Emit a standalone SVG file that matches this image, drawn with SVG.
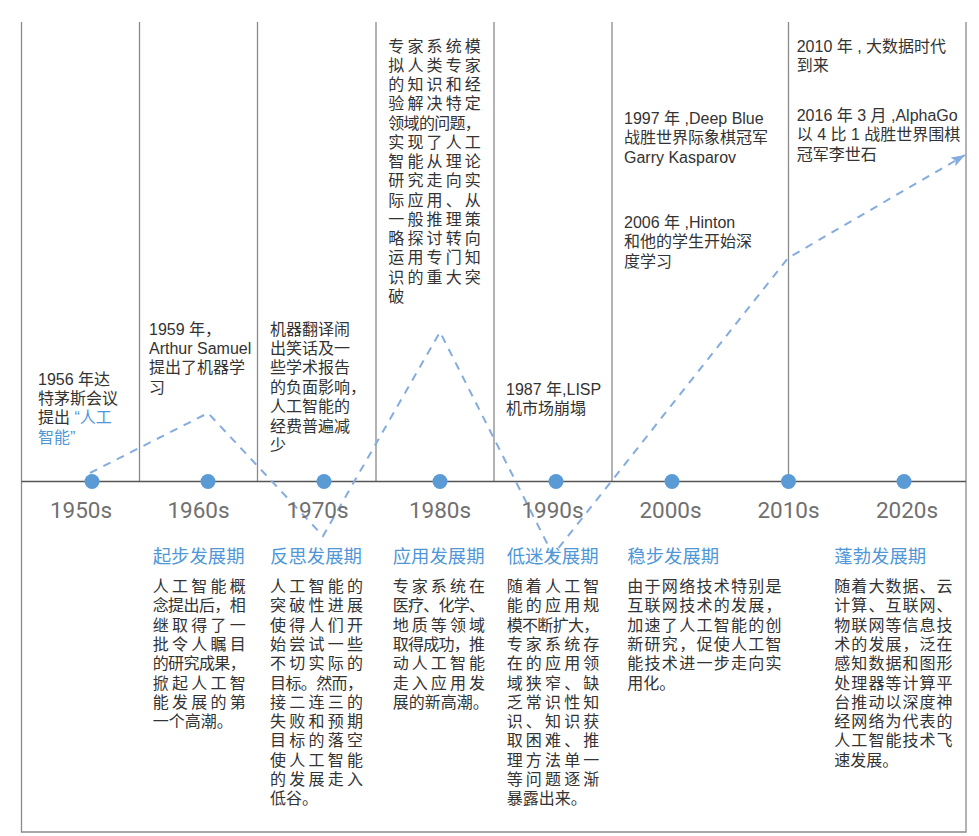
<svg xmlns="http://www.w3.org/2000/svg" width="979" height="836" viewBox="0 0 979 836">
<style>
text{font-family:"Liberation Sans","Noto Sans CJK SC",sans-serif;}
.frame{stroke:#8a8a8a;stroke-width:1.3;fill:none;}
.axis{stroke:#555;stroke-width:1.5;}
.dot{fill:#5b9bd5;}
.year{font-family:Roboto,"Liberation Sans",sans-serif;font-size:22.5px;fill:#707070;text-anchor:middle;}
.note{font-size:16px;fill:#333;}
.blue{fill:#4f97d6;}
.title{font-size:18.4px;fill:#4f97d6;}
.body{font-size:16px;fill:#333;}
.trend{fill:none;stroke:#84acdf;stroke-width:2;stroke-dasharray:8 7;}
</style>
<defs>
<marker id="arrow" markerUnits="userSpaceOnUse" markerWidth="16" markerHeight="12" refX="14" refY="5" orient="auto">
<path d="M0,0 L14,5 L0,10 L3,5 z" fill="#84acdf"/>
</marker>
</defs>
<rect width="979" height="836" fill="#fff"/>
<g id="frame">
<path class="frame" d="M21.5,22 V832 H966 V22"/>
<path class="frame" d="M139.5,22 V481 M257.5,22 V481 M376,22 V481 M494,22 V481 M612,22 V481 M788.5,22 V481"/>
<line class="axis" x1="21.5" y1="481.5" x2="966" y2="481.5"/>
</g>
<g id="connectors">
<path class="trend" d="M90,473 L208,413 L323,536 L440,332 L553,555 L788,258 L965,155" marker-end="url(#arrow)"/>
</g>
<g id="era-1950s">
<circle class="dot" cx="92" cy="481.5" r="7.5"/>
<text class="year" x="81" y="517.5">1950s</text>
<text class="note" x="38"><tspan x="38" y="385">1956 年达</tspan><tspan x="38" y="404.2">特茅斯会议</tspan><tspan x="38" y="423.4">提出 <tspan class="blue">“人工</tspan></tspan><tspan class="blue" x="38" y="442.6">智能”</tspan></text>
</g>
<g id="era-1960s">
<circle class="dot" cx="208" cy="481.5" r="7.5"/>
<text class="year" x="198.5" y="517.5">1960s</text>
<text class="note"><tspan x="149" y="335">1959 年，</tspan><tspan x="149" y="354.2">Arthur Samuel</tspan><tspan x="149" y="373.4">提出了机器学</tspan><tspan x="149" y="392.6">习</tspan></text>
<text class="title" x="152.7" y="563">起步发展期</text>
<text class="body"><tspan x="152.7" y="592" textLength="93">人工智能概</tspan><tspan x="152.7" y="611.3" textLength="93">念提出后，相</tspan><tspan x="152.7" y="630.6" textLength="93">继取得了一</tspan><tspan x="152.7" y="649.9" textLength="93">批令人瞩目</tspan><tspan x="152.7" y="669.2" textLength="93">的研究成果，</tspan><tspan x="152.7" y="688.5" textLength="93">掀起人工智</tspan><tspan x="152.7" y="707.8" textLength="93">能发展的第</tspan><tspan x="152.7" y="727.1">一个高潮。</tspan></text>
</g>
<g id="era-1970s">
<circle class="dot" cx="324" cy="481.5" r="7.5"/>
<text class="year" x="317.5" y="517.5">1970s</text>
<text class="note"><tspan x="270" y="334.5">机器翻译闹</tspan><tspan x="270" y="353.9">出笑话及一</tspan><tspan x="270" y="373.3">些学术报告</tspan><tspan x="270" y="392.7">的负面影响，</tspan><tspan x="270" y="412.1">人工智能的</tspan><tspan x="270" y="431.5">经费普遍减</tspan><tspan x="270" y="450.9">少</tspan></text>
<text class="title" x="270" y="563">反思发展期</text>
<text class="body"><tspan x="270" y="592" textLength="93">人工智能的</tspan><tspan x="270" y="611.3" textLength="93">突破性进展</tspan><tspan x="270" y="630.6" textLength="93">使得人们开</tspan><tspan x="270" y="649.9" textLength="93">始尝试一些</tspan><tspan x="270" y="669.2" textLength="93">不切实际的</tspan><tspan x="270" y="688.5" textLength="93">目标。然而，</tspan><tspan x="270" y="707.8" textLength="93">接二连三的</tspan><tspan x="270" y="727.1" textLength="93">失败和预期</tspan><tspan x="270" y="746.4" textLength="93">目标的落空</tspan><tspan x="270" y="765.7" textLength="93">使人工智能</tspan><tspan x="270" y="785" textLength="93">的发展走入</tspan><tspan x="270" y="804.3">低谷。</tspan></text>
</g>
<g id="era-1980s">
<circle class="dot" cx="440" cy="481.5" r="7.5"/>
<text class="year" x="440" y="517.5">1980s</text>
<text class="note"><tspan x="388.3" y="51.5" textLength="92.5">专家系统模</tspan><tspan x="388.3" y="70.8" textLength="92.5">拟人类专家</tspan><tspan x="388.3" y="90" textLength="92.5">的知识和经</tspan><tspan x="388.3" y="109.3" textLength="92.5">验解决特定</tspan><tspan x="388.3" y="128.5" textLength="92.5">领域的问题，</tspan><tspan x="388.3" y="147.8" textLength="92.5">实现了人工</tspan><tspan x="388.3" y="167.1" textLength="92.5">智能从理论</tspan><tspan x="388.3" y="186.3" textLength="92.5">研究走向实</tspan><tspan x="388.3" y="205.6" textLength="92.5">际应用、从</tspan><tspan x="388.3" y="224.8" textLength="92.5">一般推理策</tspan><tspan x="388.3" y="244.1" textLength="92.5">略探讨转向</tspan><tspan x="388.3" y="263.4" textLength="92.5">运用专门知</tspan><tspan x="388.3" y="282.6" textLength="92.5">识的重大突</tspan><tspan x="388.3" y="301.9">破</tspan></text>
<text class="title" x="392.7" y="563">应用发展期</text>
<text class="body"><tspan x="392.7" y="592" textLength="92.3">专家系统在</tspan><tspan x="392.7" y="611.3" textLength="92.3">医疗、化学、</tspan><tspan x="392.7" y="630.6" textLength="92.3">地质等领域</tspan><tspan x="392.7" y="649.9" textLength="92.3">取得成功，推</tspan><tspan x="392.7" y="669.2" textLength="92.3">动人工智能</tspan><tspan x="392.7" y="688.5" textLength="92.3">走入应用发</tspan><tspan x="392.7" y="707.8">展的新高潮。</tspan></text>
</g>
<g id="era-1990s">
<circle class="dot" cx="556" cy="481.5" r="7.5"/>
<text class="year" x="552.5" y="517.5">1990s</text>
<text class="note"><tspan x="506" y="395">1987 年,LISP</tspan><tspan x="506" y="414.3">机市场崩塌</tspan></text>
<text class="title" x="506.7" y="563">低迷发展期</text>
<text class="body"><tspan x="506.7" y="592" textLength="92.6">随着人工智</tspan><tspan x="506.7" y="611.3" textLength="92.6">能的应用规</tspan><tspan x="506.7" y="630.6" textLength="92.6">模不断扩大，</tspan><tspan x="506.7" y="649.9" textLength="92.6">专家系统存</tspan><tspan x="506.7" y="669.2" textLength="92.6">在的应用领</tspan><tspan x="506.7" y="688.5" textLength="92.6">域狭窄、缺</tspan><tspan x="506.7" y="707.8" textLength="92.6">乏常识性知</tspan><tspan x="506.7" y="727.1" textLength="92.6">识、知识获</tspan><tspan x="506.7" y="746.4" textLength="92.6">取困难、推</tspan><tspan x="506.7" y="765.7" textLength="92.6">理方法单一</tspan><tspan x="506.7" y="785" textLength="92.6">等问题逐渐</tspan><tspan x="506.7" y="804.3">暴露出来。</tspan></text>
</g>
<g id="era-2000s">
<circle class="dot" cx="672" cy="481.5" r="7.5"/>
<text class="year" x="670.5" y="517.5">2000s</text>
<text class="note"><tspan x="624" y="124">1997 年 ,Deep Blue</tspan><tspan x="624" y="143.3">战胜世界际象棋冠军</tspan><tspan x="624" y="162.6">Garry Kasparov</tspan></text>
<text class="note"><tspan x="624" y="228">2006 年 ,Hinton</tspan><tspan x="624" y="247.3">和他的学生开始深</tspan><tspan x="624" y="266.6">度学习</tspan></text>
<text class="title" x="627.3" y="563">稳步发展期</text>
<text class="body"><tspan x="627.3" y="592" textLength="154.3">由于网络技术特别是</tspan><tspan x="627.3" y="611.3" textLength="154.3">互联网技术的发展，</tspan><tspan x="627.3" y="630.6" textLength="154.3">加速了人工智能的创</tspan><tspan x="627.3" y="649.9" textLength="154.3">新研究，促使人工智</tspan><tspan x="627.3" y="669.2" textLength="154.3">能技术进一步走向实</tspan><tspan x="627.3" y="688.5">用化。</tspan></text>
</g>
<g id="era-2010s">
<circle class="dot" cx="788.5" cy="481.5" r="7.5"/>
<text class="year" x="788.5" y="517.5">2010s</text>
<text class="note"><tspan x="796.7" y="51.7">2010 年 , 大数据时代</tspan><tspan x="796.7" y="71">到来</tspan></text>
<text class="note"><tspan x="796.7" y="121">2016 年 3 月 ,AlphaGo</tspan><tspan x="796.7" y="140.3">以 4 比 1 战胜世界围棋</tspan><tspan x="796.7" y="159.6">冠军李世石</tspan></text>
</g>
<g id="era-2020s">
<circle class="dot" cx="904" cy="481.5" r="7.5"/>
<text class="year" x="907" y="517.5">2020s</text>
<text class="title" x="834.3" y="563">蓬勃发展期</text>
<text class="body"><tspan x="834.3" y="592" textLength="118.3">随着大数据、云</tspan><tspan x="834.3" y="611.3" textLength="118.3">计算、互联网、</tspan><tspan x="834.3" y="630.6" textLength="118.3">物联网等信息技</tspan><tspan x="834.3" y="649.9" textLength="118.3">术的发展，泛在</tspan><tspan x="834.3" y="669.2" textLength="118.3">感知数据和图形</tspan><tspan x="834.3" y="688.5" textLength="118.3">处理器等计算平</tspan><tspan x="834.3" y="707.8" textLength="118.3">台推动以深度神</tspan><tspan x="834.3" y="727.1" textLength="118.3">经网络为代表的</tspan><tspan x="834.3" y="746.4" textLength="118.3">人工智能技术飞</tspan><tspan x="834.3" y="765.7">速发展。</tspan></text>
</g>
</svg>
